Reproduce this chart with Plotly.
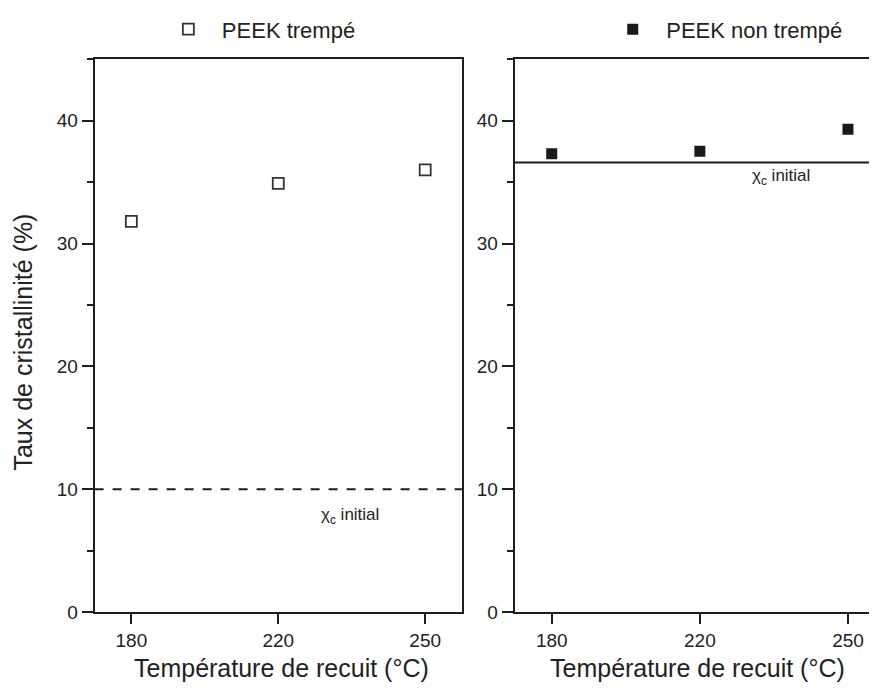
import plotly.graph_objects as go

# ---- data ----
temperatures = ["180", "220", "250"]
peek_trempe = [31.8, 34.9, 36.0]
peek_non_trempe = [37.3, 37.5, 39.3]
chi_initial_trempe = 10.0
chi_initial_non_trempe = 36.6
y_ticks = [0, 10, 20, 30, 40]

FONT = "Liberation Sans, Arial, Helvetica, sans-serif"
INK = "#1e1e1e"
TXT = "#222222"

# empirical pixel -> paper mapping of the rendered page
OX, W = 7.0, 881.0
OY, H = 12.5, 688.0


def fx(px):
    return (px - OX) / W


def fy(py):
    return 1 - (py - OY) / H


fig = go.Figure()

fig.add_trace(go.Scatter(
    x=temperatures, y=peek_trempe, mode="markers", name="PEEK trempé",
    marker=dict(symbol="square-open", size=11, color="#333333", line=dict(width=1.8)),
    xaxis="x", yaxis="y", legend="legend"))
fig.add_trace(go.Scatter(
    x=temperatures, y=peek_non_trempe, mode="markers", name="PEEK non trempé",
    marker=dict(symbol="square", size=11, color="#1a1a1a"),
    xaxis="x2", yaxis="y2", legend="legend2"))

xcommon = dict(type="category", showline=True, linecolor=INK, linewidth=2,
               ticks="outside", ticklen=10, tickwidth=2, tickcolor=INK,
               showgrid=False, zeroline=False, automargin=False,
               tickfont=dict(family=FONT, size=19, color=TXT))
ycommon = dict(range=[0, 45], showline=True, linecolor=INK, linewidth=2,
               ticks="outside", ticklen=11, tickwidth=2, tickcolor=INK,
               tickvals=y_ticks, showgrid=False, zeroline=False, automargin=False,
               minor=dict(dtick=5, ticks="outside", ticklen=6, tickwidth=1.5, tickcolor=INK),
               tickfont=dict(family=FONT, size=19, color=TXT))

ydom = [fy(611), fy(53)]

fig.update_layout(
    width=877, height=693, autosize=False,
    margin=dict(l=0, r=0, t=0, b=0),
    paper_bgcolor="white", plot_bgcolor="white",
    xaxis=dict(**xcommon, domain=[fx(94), fx(463)], range=[-0.25, 2.25], mirror=True),
    yaxis=dict(**ycommon, domain=ydom, mirror=True, anchor="x"),
    xaxis2=dict(**xcommon, domain=[fx(516), 1.0], range=[-0.25, 2.25], mirror=True, anchor="y2"),
    yaxis2=dict(**ycommon, domain=ydom, mirror=False, anchor="x2"),
    legend=dict(x=fx(258), y=fy(23), xanchor="center", yanchor="middle",
                font=dict(family=FONT, size=22, color=TXT), bgcolor="rgba(0,0,0,0)",
                itemwidth=57),
    legend2=dict(x=fx(726), y=fy(23), xanchor="center", yanchor="middle",
                 font=dict(family=FONT, size=22, color=TXT), bgcolor="rgba(0,0,0,0)",
                 itemwidth=57),
    showlegend=True,
)

# initial crystallinity reference lines
fig.add_shape(type="line", xref="x domain", yref="y", x0=0, x1=1,
              y0=chi_initial_trempe, y1=chi_initial_trempe,
              line=dict(color=INK, width=2, dash="dash"))
fig.add_shape(type="line", xref="x2 domain", yref="y2", x0=0, x1=1,
              y0=chi_initial_non_trempe, y1=chi_initial_non_trempe,
              line=dict(color=INK, width=2))

# labels
fig.add_annotation(x=1.49, y=7.8, xref="x", yref="y", showarrow=False,
                   xanchor="center", yanchor="middle",
                   text="χ<sub>c</sub> initial",
                   font=dict(family=FONT, size=17, color=TXT))
fig.add_annotation(x=1.55, y=35.4, xref="x2", yref="y2", showarrow=False,
                   xanchor="center", yanchor="middle",
                   text="χ<sub>c</sub> initial",
                   font=dict(family=FONT, size=17, color=TXT))

# axis titles
fig.add_annotation(x=fx(282), y=fy(667), xref="paper", yref="paper", showarrow=False,
                   xanchor="center", yanchor="middle",
                   text="Température de recuit (°C)",
                   font=dict(family=FONT, size=25, color=TXT))
fig.add_annotation(x=fx(700), y=fy(667), xref="paper", yref="paper", showarrow=False,
                   xanchor="center", yanchor="middle",
                   text="Température de recuit (°C)",
                   font=dict(family=FONT, size=25, color=TXT))
fig.add_annotation(x=fx(22), y=fy(338), xref="paper", yref="paper", showarrow=False,
                   xanchor="center", yanchor="middle",
                   text="Taux de cristallinité (%)", textangle=-90,
                   font=dict(family=FONT, size=25, color=TXT))

fig.write_html("out.html")
